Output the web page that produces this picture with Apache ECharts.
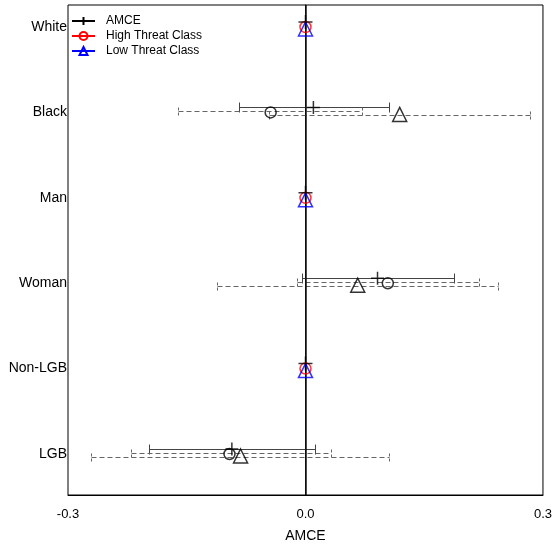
<!DOCTYPE html>
<html>
<head>
<meta charset="utf-8">
<script src="https://cdn.jsdelivr.net/npm/echarts@6/dist/echarts.min.js"></script>
<style>html,body{margin:0;padding:0;background:#fff}#c{width:555px;height:548px}</style>
</head>
<body>
<div id="c"></div>
<script>
const categories = ['White', 'Black', 'Man', 'Woman', 'Non-LGB', 'LGB'];
const isReference = [true, false, true, false, true, false];
const xTicks = [-0.3, 0.0, 0.3];

const amceEst = [0, 0.010, 0, 0.091, 0, -0.093];
const amceLo  = [null, -0.084, null, -0.005, null, -0.198];
const amceHi  = [null, 0.105, null, 0.187, null, 0.012];

const highEst = [0, -0.044, 0, 0.104, 0, -0.096];
const highLo  = [null, -0.161, null, -0.011, null, -0.221];
const highHi  = [null, 0.072, null, 0.219, null, 0.032];

const lowEst = [0, 0.119, 0, 0.066, 0, -0.082];
const lowLo  = [null, -0.046, null, -0.112, null, -0.271];
const lowHi  = [null, 0.284, null, 0.243, null, 0.106];

const FONT = "'Liberation Sans', Arial, Helvetica, sans-serif";
const PLUS = 'path://M0,5L10,5M5,0L5,10';

function ciData(lo, hi) {
  const out = [];
  lo.forEach((v, i) => { if (v !== null) out.push([i + 1, v, hi[i]]); });
  return out;
}
function ptData(est, ref) {
  const out = [];
  est.forEach((v, i) => { if (isReference[i] === ref) out.push([v, i + 1]); });
  return out;
}
function ciSeries(name, lo, hi, offset, color, dashed, cap) {
  return {
    type: 'custom', name: name, z: 2,
    data: ciData(lo, hi),
    encode: { x: [1, 2], y: 0 },
    renderItem: function (params, api) {
      const r = api.value(0);
      const a = api.coord([api.value(1), r]);
      const b = api.coord([api.value(2), r]);
      const y = Math.round(a[1] + offset) + 0.5;
      const ax = Math.round(a[0]) + 0.5, bx = Math.round(b[0]) + 0.5;
      const style = { stroke: color, lineWidth: 1, lineDash: dashed ? [5, 3] : null, fill: null };
      const capStyle = { stroke: color, lineWidth: 1, lineDash: dashed ? [3, 2] : null, fill: null };
      return {
        type: 'group',
        children: [
          { type: 'line', shape: { x1: ax, y1: y, x2: bx, y2: y }, style: style },
          { type: 'line', shape: { x1: ax, y1: y - cap, x2: ax, y2: y + cap }, style: capStyle },
          { type: 'line', shape: { x1: bx, y1: y - cap, x2: bx, y2: y + cap }, style: capStyle }
        ]
      };
    }
  };
}
function ptSeries(name, data, symbol, size, offset, color) {
  return {
    type: 'scatter', name: name, z: 5, data: data,
    symbol: symbol, symbolSize: size, symbolOffset: [0, offset],
    itemStyle: { color: 'rgba(0,0,0,0)', borderColor: color, borderWidth: 1.5 },
    emphasis: { disabled: true }, silent: true
  };
}

const chart = echarts.init(document.getElementById('c'), null, { renderer: 'canvas' });
chart.setOption({
  animation: false,
  backgroundColor: '#fff',
  textStyle: { fontFamily: FONT },
  grid: { left: 68, right: 10, top: 5, bottom: 53, show: true, borderColor: '#000', borderWidth: 1, backgroundColor: 'transparent' },
  legend: {
    data: ['AMCE', 'High Threat Class', 'Low Threat Class'],
    orient: 'vertical', left: 71, top: 15, padding: 0,
    itemWidth: 23, itemHeight: 10, itemGap: 3,
    textStyle: { fontSize: 12, lineHeight: 12, color: '#000', fontFamily: FONT, padding: [0, 0, 0, 6] },
    selectedMode: false
  },
  xAxis: {
    type: 'value', min: -0.3, max: 0.3, interval: 0.3,
    name: 'AMCE', nameLocation: 'middle', nameGap: 34,
    nameTextStyle: { fontSize: 14, color: '#000', fontFamily: FONT },
    axisLine: { show: true, lineStyle: { color: '#000' } },
    axisTick: { show: false },
    splitLine: { show: false },
    axisLabel: { fontSize: 13, color: '#000', margin: 13, fontFamily: FONT,
      customValues: xTicks, formatter: v => v.toFixed(1) }
  },
  yAxis: {
    type: 'value', inverse: true, min: 0.742, max: 6.48,
    axisLine: { show: true, lineStyle: { color: '#000' } },
    axisTick: { show: false },
    splitLine: { show: false },
    axisLabel: { fontSize: 14, color: '#000', margin: 1, fontFamily: FONT,
      customValues: [1, 2, 3, 4, 5, 6],
      formatter: v => categories[Math.round(v) - 1] || '' }
  },
  series: [
    // legend-only series
    { type: 'line', name: 'AMCE', data: [], symbol: PLUS, symbolSize: 9, color: '#000',
      itemStyle: { color: 'rgba(0,0,0,0)', borderColor: '#000', borderWidth: 1 }, lineStyle: { color: '#000', width: 1 } },
    { type: 'line', name: 'High Threat Class', data: [], symbol: 'circle', symbolSize: 6, color: '#ff0000',
      itemStyle: { color: 'rgba(0,0,0,0)', borderColor: '#ff0000', borderWidth: 1 }, lineStyle: { color: '#ff0000', width: 1 } },
    { type: 'line', name: 'Low Threat Class', data: [], symbol: 'triangle', symbolSize: 8, color: '#0000ff',
      itemStyle: { color: 'rgba(0,0,0,0)', borderColor: '#0000ff', borderWidth: 1 }, lineStyle: { color: '#0000ff', width: 1 } },

    // zero line
    { type: 'line', name: 'zero', data: [], markLine: {
        silent: true, symbol: ['none', 'none'], label: { show: false },
        lineStyle: { color: '#111', width: 1.5, type: 'solid' },
        data: [{ xAxis: 0 }] } },

    // confidence intervals
    ciSeries('amceCI', amceLo, amceHi, -5, '#444', false, 5),
    ciSeries('highCI', highLo, highHi, -1, '#666', true, 4),
    ciSeries('lowCI', lowLo, lowHi, 3, '#666', true, 4),

    // estimates (non-reference: black)
    ptSeries('amcePt', ptData(amceEst, false), PLUS, 13, -5, '#000'),
    ptSeries('highPt', ptData(highEst, false), 'circle', 11, 0, '#000'),
    ptSeries('lowPt', ptData(lowEst, false), 'triangle', 14, 2, '#000'),

    // reference categories (coloured)
    ptSeries('highRef', ptData(highEst, true), 'circle', 11, 0, '#ff0000'),
    ptSeries('lowRef', ptData(lowEst, true), 'triangle', 14, 2, '#0000ff'),
    ptSeries('amceRef', ptData(amceEst, true), PLUS, 14, -5, '#000')
  ]
});
</script>
</body>
</html>
